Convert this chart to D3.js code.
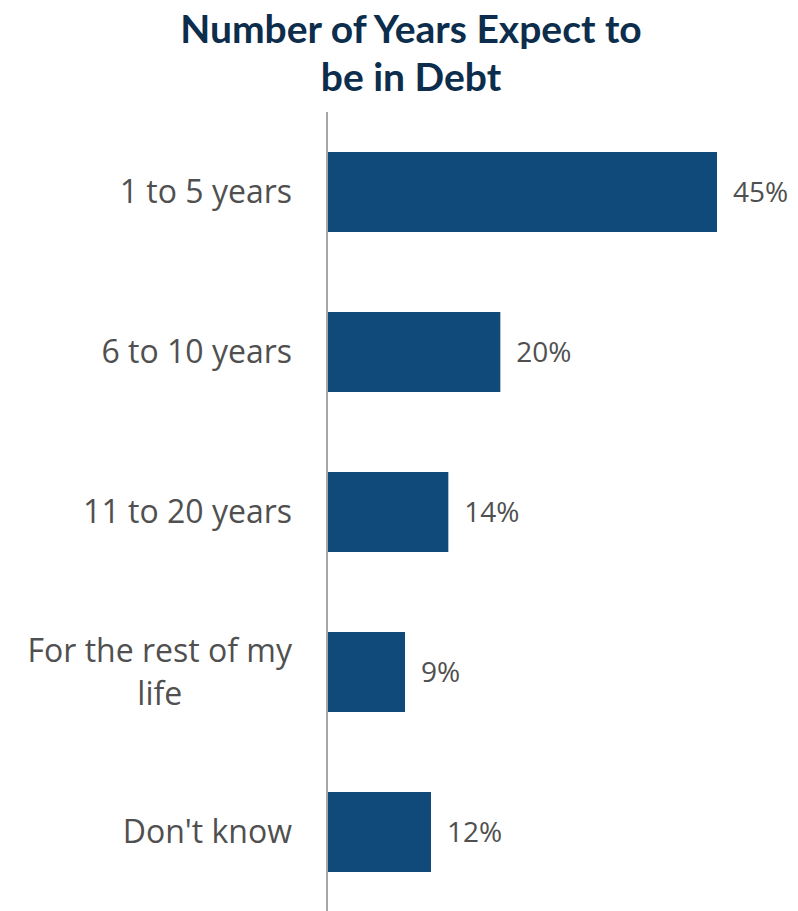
<!DOCTYPE html>
<html>
<head>
<meta charset="utf-8">
<script src="https://cdn.jsdelivr.net/npm/d3@7"></script>
<style>
  body { margin: 0; background: #fff; }
  text { font-family: "Open Sans", Lato, sans-serif; }
</style>
</head>
<body>
<div id="chart"></div>
<script>
var categories = ['1 to 5 years', '6 to 10 years', '11 to 20 years', 'For the rest of my life', "Don't know"];
var values = [45, 20, 14, 9, 12];
var wrapped = { 'For the rest of my life': ['For the rest of my', 'life'] };
var titleLines = ['Number of Years Expect to', 'be in Debt'];

var width = 798, height = 911;
var axisX = 327;

var svg = d3.select('#chart').append('svg')
            .attr('width', width)
            .attr('height', height);

var x = d3.scaleLinear()
          .domain([0, 45])
          .range([axisX, 717]);

var y = d3.scaleBand()
          .domain(categories)
          .range([112, 912])
          .paddingInner(0.5)
          .paddingOuter(0.25);

svg.append('g').selectAll('text')
   .data(titleLines)
   .enter().append('text')
     .attr('x', 411)
     .attr('y', function(d, i) { return 43 + i * 48; })
     .attr('text-anchor', 'middle')
     .style('font-family', 'Lato, sans-serif')
     .style('font-size', '39px')
     .style('font-weight', 'bold')
     .style('fill', '#0c2d4c')
     .text(function(d) { return d; });

svg.append('g').selectAll('rect')
   .data(values)
   .enter().append('rect')
     .attr('x', x(0))
     .attr('y', function(d, i) { return y(categories[i]); })
     .attr('width', function(d) { return x(d) - x(0); })
     .attr('height', y.bandwidth())
     .style('fill', '#104a7a');

svg.append('g').selectAll('text')
   .data(values)
   .enter().append('text')
     .attr('x', function(d) { return x(d) + 16; })
     .attr('y', function(d, i) { return y(categories[i]) + y.bandwidth() / 2 + 10; })
     .style('font-size', '28px')
     .style('fill', '#505050')
     .text(function(d) { return d + '%'; });

var labels = svg.append('g');
categories.forEach(function(c) {
  var cy = y(c) + y.bandwidth() / 2;
  var lines = wrapped[c] || [c];
  var t = labels.append('text')
                .style('font-size', '32px')
                .style('fill', '#505050')
                .attr('text-anchor', 'middle');
  lines.forEach(function(l, i) {
    t.append('tspan')
     .attr('y', cy + 11 + (i - (lines.length - 1) / 2) * 43)
     .text(l);
  });
  var w = 0;
  t.selectAll('tspan').each(function() { w = Math.max(w, this.getComputedTextLength()); });
  t.selectAll('tspan').attr('x', 292 - w / 2);
});

svg.append('line')
   .attr('x1', axisX).attr('x2', axisX)
   .attr('y1', 112).attr('y2', 911)
   .style('stroke', '#a6a6a6')
   .style('stroke-width', 2);
</script>
</body>
</html>
